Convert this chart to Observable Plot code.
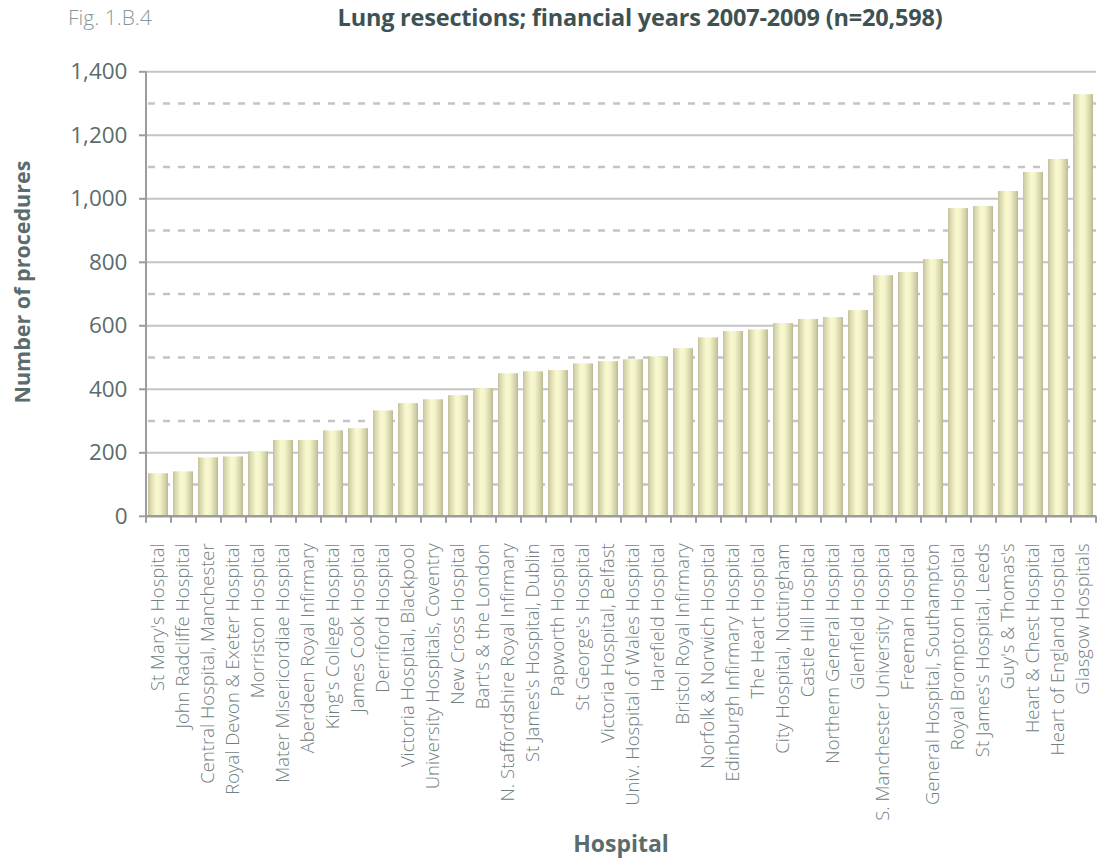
<!DOCTYPE html>
<html><head><meta charset="utf-8">
<script src="https://cdn.jsdelivr.net/npm/d3@7"></script>
<script src="https://cdn.jsdelivr.net/npm/@observablehq/plot@0.6"></script>
<style>
body{margin:0;background:#fff;font-family:"Open Sans",sans-serif;}
#head{position:relative;height:36px;width:1097px;}
#fig{position:absolute;left:68px;top:3px;font-size:21px;font-weight:300;color:#86979a;}
#title{position:absolute;left:0;width:1280px;text-align:center;top:1px;font-size:23.5px;font-weight:700;color:#3f5252;letter-spacing:-0.2px;}
#chart svg{display:block;}
</style></head><body>
<div id="head"><span id="fig">Fig. 1.B.4</span><span id="title">Lung resections; financial years 2007-2009 (n=20,598)</span></div>
<div id="chart"></div>
<script>
const hospitals = [
  "St Mary's Hospital","John Radcliffe Hospital","Central Hospital, Manchester","Royal Devon & Exeter Hospital",
  "Morriston Hospital","Mater Misericordiae Hospital","Aberdeen Royal Infirmary","King's College Hospital",
  "James Cook Hospital","Derriford Hospital","Victoria Hospital, Blackpool","University Hospitals, Coventry",
  "New Cross Hospital","Bart's & the London","N. Staffordshire Royal Infirmary","St James's Hospital, Dublin",
  "Papworth Hospital","St George's Hospital","Victoria Hospital, Belfast","Univ. Hospital of Wales Hospital",
  "Harefield Hospital","Bristol Royal Infirmary","Norfolk & Norwich Hospital","Edinburgh Infirmary Hospital",
  "The Heart Hospital","City Hospital, Nottingham","Castle Hill Hospital","Northern General Hospital",
  "Glenfield Hospital","S. Manchester University Hospital","Freeman Hospital","General Hospital, Southampton",
  "Royal Brompton Hospital","St James's Hospital, Leeds","Guy's & Thomas's","Heart & Chest Hospital",
  "Heart of England Hospital","Glasgow Hospitals"
];
const procedures = [
  134,140,184,187,203,239,239,269,276,332,355,367,380,402,449,455,459,480,487,493,
  502,528,562,582,587,607,620,626,648,758,768,809,969,976,1023,1083,1124,1328
];
const yTicks = [0,200,400,600,800,1000,1200,1400];
const yMinor = [100,300,500,700,900,1100,1300];
const yLabel = "Number of procedures";
const xLabel = "Hospital";

const data = hospitals.map((h,i)=>({hospital:h, value:procedures[i]}));
const first = hospitals[0], last = hospitals[hospitals.length-1];

const W = 1097, H = 827, mL = 145, mR = 1, mT = 35.3, mB = 347.2;
const frameW = W - mL - mR;
const step = frameW / (hospitals.length);
const half = step/2;

const gridColor = "#c4c4c4";
const axisColor = "#9c9c9c";
const textColor = "#5b6c6c";

const chart = Plot.plot({
  width: W, height: H,
  marginLeft: mL, marginRight: mR, marginTop: mT, marginBottom: mB,
  style: {fontFamily: "'Open Sans', sans-serif", background: "#fff", overflow: "visible"},
  x: {type: "band", domain: hospitals, paddingInner: 0.2, paddingOuter: 0.1, axis: null},
  y: {domain: [0, 1400], axis: null},
  marks: [
    Plot.ruleY(yTicks.filter(d=>d>0), {stroke: gridColor, strokeWidth: 2}),
    Plot.ruleY(yMinor, {stroke: gridColor, strokeWidth: 2.5, strokeDasharray: "7,8", insetLeft: 3}),
    Plot.barY(data, {x: "hospital", y: "value", fill: "url(#barGrad)"}),
    // y axis line
    Plot.ruleX([first], {x: d=>d, y1: 0, y2: 1400, dx: -half, stroke: axisColor, strokeWidth: 2}),
    // baseline
    Plot.ruleY([0], {stroke: axisColor, strokeWidth: 2.5}),
    // y ticks (outward)
    Plot.tickY(yTicks, {y: d=>d, stroke: axisColor, strokeWidth: 2, insetRight: frameW - 6, dx: -6}),
    // x boundary ticks
    Plot.ruleX(hospitals, {x: d=>d, y1: 0, y2: -22, dx: -half, stroke: axisColor, strokeWidth: 2}),
    Plot.ruleX([last], {x: d=>d, y1: 0, y2: -22, dx: half, stroke: axisColor, strokeWidth: 2}),
    // y tick labels
    Plot.text(yTicks, {y: d=>d, frameAnchor: "left", dx: -18, textAnchor: "end", text: d=>d3.format(",")(d), fontSize: 22.5, fill: textColor}),
    // x tick labels
    Plot.text(hospitals, {x: d=>d, y: ()=>0, dy: 27, rotate: -90, textAnchor: "end", lineAnchor: "middle", text: d=>d, fontSize: 18.5, fontWeight: 300, fill: "#6f8081"}),
    // axis titles
    Plot.text([yLabel], {frameAnchor: "left", dx: -122, dy: -12, rotate: -90, textAnchor: "middle", text: d=>d, fontSize: 21.5, fontWeight: 700, fill: textColor}),
    Plot.text([xLabel], {frameAnchor: "bottom", dy: 336, text: d=>d, fontSize: 23, fontWeight: 700, fill: textColor})
  ]
});

d3.select(chart).insert("defs", ":first-child").html(`
  <linearGradient id="barGrad" x1="0" x2="1" y1="0" y2="0">
    <stop offset="0" stop-color="#c2c19c"/>
    <stop offset="0.12" stop-color="#d8d7ae"/>
    <stop offset="0.4" stop-color="#f9f9d0"/>
    <stop offset="0.6" stop-color="#f4f4ca"/>
    <stop offset="0.88" stop-color="#d0cfa6"/>
    <stop offset="1" stop-color="#b9b891"/>
  </linearGradient>`);

document.getElementById("chart").appendChild(chart);
</script>
</body></html>
